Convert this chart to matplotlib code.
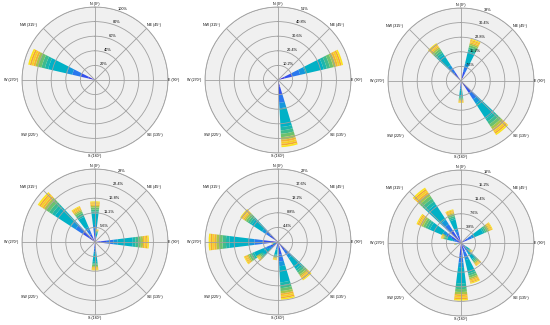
import numpy as np
import matplotlib.pyplot as plt

# wind direction sectors (deg) and frequency (%) for each of the six roses
DIRS_A = [290]
FREQ_A = [94.0]
DIRS_B = [70, 170]
FREQ_B = [46.7, 47.0]
DIRS_C = [20, 140, 180, 320]
FREQ_C = [22.5, 33.6, 11.4, 23.5]
DIRS_D = [0, 10, 90, 180, 310, 330]
FREQ_D = [15.6, 4.9, 20.7, 10.9, 26.2, 15.0]
DIRS_E = [140, 170, 190, 230, 240, 250, 270, 310]
FREQ_E = [13.8, 17.4, 5.5, 7.8, 11.2, 2.0, 20.9, 13.6]
DIRS_F = [60, 130, 140, 160, 180, 260, 290, 300, 320, 340]
FREQ_F = [9.0, 3.6, 7.2, 10.9, 15.0, 1.8, 5.4, 12.6, 17.2, 9.0]

RMAX = [100, 51, 38, 28, 22, 19]

# share of each speed class within a bar (calm -> strong)
SPEED_SHARE = [0.10, 0.12, 0.12, 0.08, 0.28, 0.05, 0.05, 0.05, 0.04,
               0.03, 0.03, 0.025, 0.025]
SPEED_COLORS = ['#3a30d8', '#3450ee', '#2a78ee', '#1597dc', '#00b1c6',
                '#1cb6ac', '#3ebb8e', '#6cc16e', '#a8c648', '#f2b134',
                '#f7cf24', '#f4a931', '#fbe31a']

DIR_ANGLES = [0, 45, 90, 135, 180, 225, 270, 315]
DIR_LABELS = ['N (0°)', 'NE (45°)', 'E (90°)', 'SE (135°)', 'S (180°)',
              'SW (225°)', 'W (270°)', 'NW (315°)']
# offset (points) and alignment of each compass label
LABEL_STYLE = [((0, 0.8), 'center', 'bottom'), ((0.3, 1.2), 'left', 'bottom'),
               ((0.3, 0), 'left', 'center'), ((0.3, -1.2), 'left', 'top'),
               ((0, -0.8), 'center', 'top'), ((-4.5, -1.2), 'right', 'top'),
               ((-2.5, 0), 'right', 'center'), ((-4.5, 1.2), 'right', 'bottom')]

panels = [(DIRS_A, FREQ_A), (DIRS_B, FREQ_B), (DIRS_C, FREQ_C),
          (DIRS_D, FREQ_D), (DIRS_E, FREQ_E), (DIRS_F, FREQ_F)]
centers = [(95, 80), (278, 80), (461, 81), (95, 242), (278, 242), (461, 243)]

W, H = 550, 325
R = 73
plt.rcParams['font.family'] = ['Liberation Sans', 'DejaVu Sans']
fig = plt.figure(figsize=(W / 100, H / 100), dpi=100)

for (dirs, freqs), (cx, cy), rmax in zip(panels, centers, RMAX):
    ax = fig.add_axes([(cx - R) / W, (H - cy - R) / H, 2 * R / W, 2 * R / H],
                      projection='polar')
    ax.set_theta_zero_location('N')
    ax.set_theta_direction(-1)
    ax.set_facecolor('#f0f0f0')
    ax.set_axisbelow(False)

    theta = np.radians(dirs)
    freqs = np.asarray(freqs)
    bottom = np.zeros(len(freqs))
    for share, color in zip(SPEED_SHARE, SPEED_COLORS):
        ax.bar(theta, freqs * share, width=np.radians(14), bottom=bottom,
               color=color, edgecolor='none', zorder=1)
        bottom = bottom + freqs * share

    ax.set_ylim(0, rmax)
    ticks = [round(rmax * k / 5, 1) for k in range(1, 6)]
    ax.set_yticks(ticks)
    ax.set_yticklabels([f'{t:g}%' for t in ticks], fontsize=2.8)
    ax.set_rlabel_position(18)
    ax.set_xticks(np.radians(DIR_ANGLES))
    ax.set_xticklabels([])
    for ang, lab, (off, ha, va) in zip(DIR_ANGLES, DIR_LABELS, LABEL_STYLE):
        ax.annotate(lab, xy=(np.radians(ang), rmax), xytext=off,
                    textcoords='offset points', ha=ha, va=va, fontsize=2.6,
                    annotation_clip=False)
    ax.grid(color='#a0a0a0', linewidth=0.6)
    ax.spines['polar'].set_color('#a0a0a0')
    ax.spines['polar'].set_linewidth(0.6)

fig.savefig('out.png', dpi=100)
